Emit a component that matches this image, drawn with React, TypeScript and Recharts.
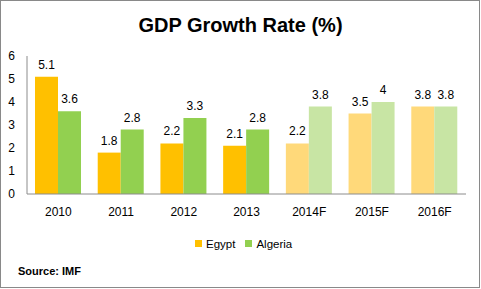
import { Bar, BarChart, Cell, LabelList, XAxis, YAxis } from 'recharts';

const years = ['2010', '2011', '2012', '2013', '2014F', '2015F', '2016F'];
const egypt = [5.1, 1.8, 2.2, 2.1, 2.2, 3.5, 3.8];
const algeria = [3.6, 2.8, 3.3, 2.8, 3.8, 4, 3.8];
const yTicks = [0, 1, 2, 3, 4, 5, 6];

const EGYPT = '#FFC000';
const EGYPT_FORECAST = '#FFD97A';
const ALGERIA = '#92D050';
const ALGERIA_FORECAST = '#C8E5A4';
const AXIS = '#8c8c8c';
const FONT = '"Liberation Sans", Arial, sans-serif';

const data = years.map((year, i) => ({
  year,
  forecast: year.endsWith('F'),
  Egypt: egypt[i],
  Algeria: algeria[i],
}));

const tickStyle = { fill: '#000', fontSize: 12, fontFamily: FONT };

function LegendItem({ color, label }: { color: string; label: string }) {
  return (
    <span style={{ display: 'inline-flex', alignItems: 'center', marginRight: 10 }}>
      <span style={{ width: 7, height: 7, background: color, marginRight: 4, display: 'inline-block' }} />
      {label}
    </span>
  );
}

export default function App() {
  return (
    <div
      style={{
        position: 'fixed',
        top: 0,
        left: 0,
        width: 481,
        height: 289,
        background: '#fff',
        fontFamily: FONT,
      }}
    >
      <div
        style={{
          position: 'absolute',
          left: 0,
          top: 0,
          width: 480,
          height: 288,
          boxSizing: 'border-box',
          border: '1px solid #898989',
        }}
      />
      <div
        style={{
          position: 'absolute',
          top: 12,
          left: 0,
          width: 481,
          textAlign: 'center',
          fontWeight: 'bold',
          fontSize: 20,
          lineHeight: '26px',
        }}
      >
        GDP Growth Rate (%)
      </div>
      <BarChart
        width={481}
        height={289}
        data={data}
        margin={{ top: 56, right: 15, bottom: 0, left: 0 }}
        barSize={23}
        barGap={0}
        style={{ position: 'absolute', top: 0, left: 0 }}
      >
        <YAxis
          width={27}
          domain={[0, 6]}
          ticks={yTicks}
          interval={0}
          axisLine={{ stroke: AXIS }}
          tickLine={false}
          tickSize={0}
          tickMargin={12}
          tick={tickStyle}
        />
        <XAxis
          dataKey="year"
          height={95}
          axisLine={{ stroke: AXIS }}
          tickLine={false}
          tickSize={0}
          tickMargin={13}
          tick={tickStyle}
        />
        <Bar dataKey="Egypt" isAnimationActive={false}>
          {data.map((d) => (
            <Cell key={d.year} fill={d.forecast ? EGYPT_FORECAST : EGYPT} />
          ))}
          <LabelList dataKey="Egypt" position="top" offset={8} style={tickStyle} />
        </Bar>
        <Bar dataKey="Algeria" isAnimationActive={false}>
          {data.map((d) => (
            <Cell key={d.year} fill={d.forecast ? ALGERIA_FORECAST : ALGERIA} />
          ))}
          <LabelList dataKey="Algeria" position="top" offset={8} style={tickStyle} />
        </Bar>
      </BarChart>
      <div
        style={{
          position: 'absolute',
          top: 236,
          left: 195,
          fontSize: 11.5,
          lineHeight: '14px',
          whiteSpace: 'nowrap',
        }}
      >
        <LegendItem color={EGYPT} label="Egypt" />
        <LegendItem color={ALGERIA} label="Algeria" />
      </div>
      <div
        style={{
          position: 'absolute',
          top: 264,
          left: 18,
          fontSize: 11,
          fontWeight: 'bold',
          lineHeight: '14px',
        }}
      >
        Source: IMF
      </div>
    </div>
  );
}
